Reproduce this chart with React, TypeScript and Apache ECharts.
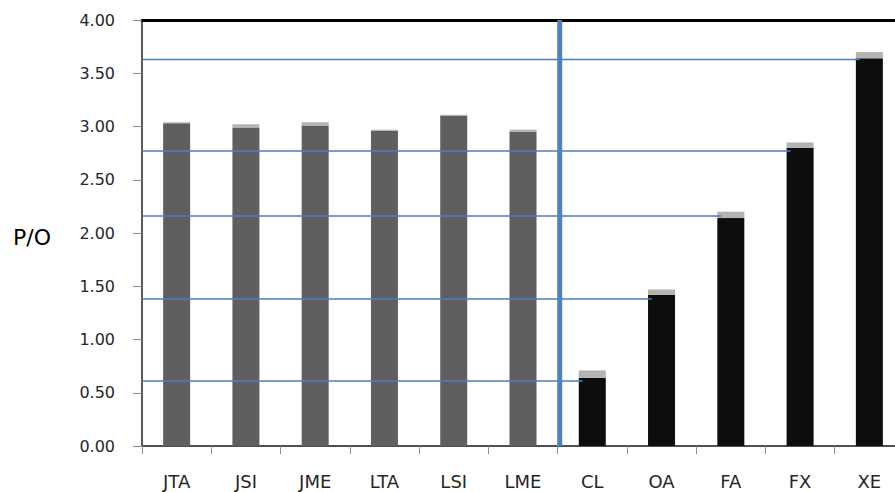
import React, { useEffect, useRef } from "react";
import * as echarts from "echarts";

const categories = ["JTA", "JSI", "JME", "LTA", "LSI", "LME", "CL", "OA", "FA", "FX", "XE"];
const baseValues = [3.03, 2.99, 3.01, 2.96, 3.1, 2.95, 0.64, 1.42, 2.14, 2.8, 3.64];
const capValues = [0.01, 0.03, 0.03, 0.01, 0.01, 0.02, 0.07, 0.05, 0.06, 0.05, 0.06];
const groups = ["A", "A", "A", "A", "A", "A", "B", "B", "B", "B", "B"];
const refCategories = ["CL", "OA", "FA", "FX", "XE"];
const refValues = [0.61, 1.38, 2.16, 2.77, 3.63];
const separatorPosition = 6.03;
const yMin = 0;
const yMax = 4;
const yInterval = 0.5;

export default function App() {
  const ref = useRef<HTMLDivElement>(null);
  useEffect(() => {
    document.body.style.margin = "0";
    document.body.style.overflow = "hidden";
    const chart = echarts.init(ref.current!, null, { renderer: "svg" });
    const groupColor: Record<string, string> = { A: "#5f5f5f", B: "#0d0d0d" };
    const refSeries = refCategories.map((c, i) => ({
      type: "line",
      xAxisIndex: 1,
      yAxisIndex: 0,
      symbol: "none",
      silent: true,
      z: 5,
      lineStyle: { color: "#4a7ebb", width: 1.5 },
      data: [
        [0, refValues[i]],
        [categories.indexOf(c) + 0.36, refValues[i]],
      ],
    }));
    chart.setOption({
      animation: false,
      grid: { left: 142, top: 20, width: 762, height: 426 },
      xAxis: [
        {
          type: "category",
          data: categories,
          position: "bottom",
          axisLine: { show: true, lineStyle: { color: "#505050", width: 2 } },
          axisTick: { show: true, length: 8, lineStyle: { color: "#8c8c8c", width: 1 } },
          axisLabel: {
            margin: 26,
            fontSize: 18,
            color: "#262626",
            fontFamily: "DejaVu Sans",
          },
          splitLine: { show: false },
        },
        {
          type: "value",
          min: 0,
          max: categories.length,
          position: "top",
          axisLine: { show: true, lineStyle: { color: "#000000", width: 3 } },
          axisTick: { show: false },
          axisLabel: { show: false },
          splitLine: { show: false },
        },
      ],
      yAxis: {
        type: "value",
        min: yMin,
        max: yMax,
        interval: yInterval,
        axisLine: { show: true, lineStyle: { color: "#595959", width: 2 } },
        axisTick: { show: true, length: 9, lineStyle: { color: "#8c8c8c", width: 1 } },
        axisLabel: {
          margin: 27,
          fontSize: 16,
          color: "#262626",
          fontFamily: "DejaVu Sans",
          formatter: (v: number) => v.toFixed(2),
        },
        splitLine: { show: false },
      },
      graphic: [
        {
          type: "text",
          left: 13,
          top: 226,
          style: { text: "P/O", fontSize: 22, fill: "#000000", fontFamily: "DejaVu Sans" },
        },
      ],
      series: [
        {
          type: "bar",
          stack: "po",
          xAxisIndex: 0,
          barWidth: 27,
          data: baseValues.map((v, i) => ({ value: v, itemStyle: { color: groupColor[groups[i]] } })),
        },
        {
          type: "bar",
          stack: "po",
          xAxisIndex: 0,
          barWidth: 27,
          itemStyle: { color: "#b3b3b3" },
          data: capValues,
        },
        ...refSeries,
        {
          type: "line",
          xAxisIndex: 1,
          yAxisIndex: 0,
          symbol: "none",
          silent: true,
          z: 6,
          lineStyle: { color: "#4f81bd", width: 5 },
          data: [
            [separatorPosition, yMin],
            [separatorPosition, yMax],
          ],
        },
      ],
    });
    return () => chart.dispose();
  }, []);
  return <div ref={ref} style={{ width: 910, height: 492 }} />;
}
